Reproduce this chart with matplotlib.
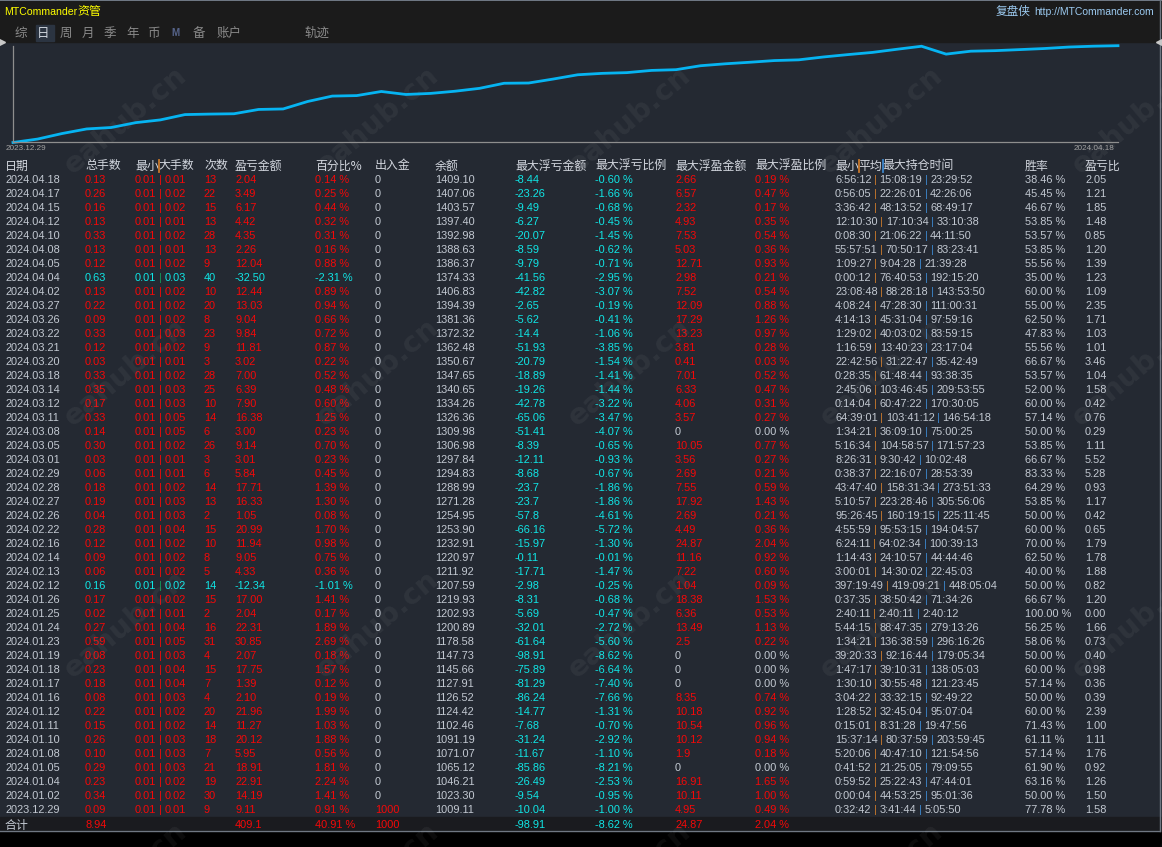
import matplotlib
matplotlib.use("Agg")
import matplotlib.pyplot as plt
from matplotlib.lines import Line2D
from matplotlib.patches import Rectangle

# ---------------- data ----------------
dates = ["2024.04.18", "2024.04.17", "2024.04.15", "2024.04.12", "2024.04.10", "2024.04.08",
         "2024.04.05", "2024.04.04", "2024.04.02", "2024.03.27", "2024.03.26", "2024.03.22",
         "2024.03.21", "2024.03.20", "2024.03.18", "2024.03.14", "2024.03.12", "2024.03.11",
         "2024.03.08", "2024.03.05", "2024.03.01", "2024.02.29", "2024.02.28", "2024.02.27",
         "2024.02.26", "2024.02.22", "2024.02.16", "2024.02.14", "2024.02.13", "2024.02.12",
         "2024.01.26", "2024.01.25", "2024.01.24", "2024.01.23", "2024.01.19", "2024.01.18",
         "2024.01.17", "2024.01.16", "2024.01.12", "2024.01.11", "2024.01.10", "2024.01.08",
         "2024.01.05", "2024.01.04", "2024.01.02", "2023.12.29"]
total_lots = [0.13, 0.26, 0.16, 0.13, 0.33, 0.13, 0.12, 0.63, 0.13, 0.22, 0.09, 0.33,
              0.12, 0.03, 0.33, 0.35, 0.17, 0.33, 0.14, 0.30, 0.03, 0.06, 0.18, 0.19,
              0.04, 0.28, 0.12, 0.09, 0.06, 0.16, 0.17, 0.02, 0.27, 0.59, 0.08, 0.23,
              0.18, 0.08, 0.22, 0.15, 0.26, 0.10, 0.29, 0.23, 0.34, 0.09]
min_lot = [0.01, 0.01, 0.01, 0.01, 0.01, 0.01, 0.01, 0.01, 0.01, 0.01, 0.01, 0.01,
           0.01, 0.01, 0.01, 0.01, 0.01, 0.01, 0.01, 0.01, 0.01, 0.01, 0.01, 0.01,
           0.01, 0.01, 0.01, 0.01, 0.01, 0.01, 0.01, 0.01, 0.01, 0.01, 0.01, 0.01,
           0.01, 0.01, 0.01, 0.01, 0.01, 0.01, 0.01, 0.01, 0.01, 0.01]
max_lot = [0.01, 0.02, 0.02, 0.01, 0.02, 0.01, 0.02, 0.03, 0.02, 0.02, 0.02, 0.03,
           0.02, 0.01, 0.02, 0.03, 0.03, 0.05, 0.05, 0.02, 0.01, 0.01, 0.02, 0.03,
           0.03, 0.04, 0.02, 0.02, 0.02, 0.02, 0.02, 0.01, 0.04, 0.05, 0.03, 0.04,
           0.04, 0.03, 0.02, 0.02, 0.03, 0.03, 0.03, 0.02, 0.02, 0.01]
trades = [13, 22, 15, 13, 28, 13, 9, 40, 10, 20, 8, 23,
          9, 3, 28, 25, 10, 14, 6, 26, 3, 6, 14, 13,
          2, 15, 10, 8, 5, 14, 15, 2, 16, 31, 4, 15,
          7, 4, 20, 14, 18, 7, 21, 19, 30, 9]
pnl = [2.04, 3.49, 6.17, 4.42, 4.35, 2.26, 12.04, -32.50, 12.44, 13.03, 9.04, 9.84,
       11.81, 3.02, 7.00, 6.39, 7.90, 16.38, 3.00, 9.14, 3.01, 5.84, 17.71, 16.33,
       1.05, 20.99, 11.94, 9.05, 4.33, -12.34, 17.00, 2.04, 22.31, 30.85, 2.07, 17.75,
       1.39, 2.10, 21.96, 11.27, 20.12, 5.95, 18.91, 22.91, 14.19, 9.11]
pnl_pct = [0.14, 0.25, 0.44, 0.32, 0.31, 0.16, 0.88, -2.31, 0.89, 0.94, 0.66, 0.72,
           0.87, 0.22, 0.52, 0.48, 0.60, 1.25, 0.23, 0.70, 0.23, 0.45, 1.39, 1.30,
           0.08, 1.70, 0.98, 0.75, 0.36, -1.01, 1.41, 0.17, 1.89, 2.69, 0.18, 1.57,
           0.12, 0.19, 1.99, 1.03, 1.88, 0.56, 1.81, 2.24, 1.41, 0.91]
deposits = [0, 0, 0, 0, 0, 0, 0, 0, 0, 0, 0, 0,
            0, 0, 0, 0, 0, 0, 0, 0, 0, 0, 0, 0,
            0, 0, 0, 0, 0, 0, 0, 0, 0, 0, 0, 0,
            0, 0, 0, 0, 0, 0, 0, 0, 0, 1000]
balance = [1409.10, 1407.06, 1403.57, 1397.40, 1392.98, 1388.63, 1386.37, 1374.33, 1406.83,
           1394.39, 1381.36, 1372.32, 1362.48, 1350.67, 1347.65, 1340.65, 1334.26, 1326.36,
           1309.98, 1306.98, 1297.84, 1294.83, 1288.99, 1271.28, 1254.95, 1253.90, 1232.91,
           1220.97, 1211.92, 1207.59, 1219.93, 1202.93, 1200.89, 1178.58, 1147.73, 1145.66,
           1127.91, 1126.52, 1124.42, 1102.46, 1091.19, 1071.07, 1065.12, 1046.21, 1023.30,
           1009.11]
max_float_loss = [-8.44, -23.26, -9.49, -6.27, -20.07, -8.59, -9.79, -41.56, -42.82, -2.65,
                  -5.62, -14.4, -51.93, -20.79, -18.89, -19.26, -42.78, -65.06, -51.41, -8.39,
                  -12.11, -8.68, -23.7, -23.7, -57.8, -66.16, -15.97, -0.11, -17.71, -2.98,
                  -8.31, -5.69, -32.01, -61.64, -98.91, -75.89, -81.29, -86.24, -14.77, -7.68,
                  -31.24, -11.67, -85.86, -26.49, -9.54, -10.04]
max_float_loss_pct = [-0.60, -1.66, -0.68, -0.45, -1.45, -0.62, -0.71, -2.95, -3.07, -0.19,
                      -0.41, -1.06, -3.85, -1.54, -1.41, -1.44, -3.22, -3.47, -4.07, -0.65,
                      -0.93, -0.67, -1.86, -1.86, -4.61, -5.72, -1.30, -0.01, -1.47, -0.25,
                      -0.68, -0.47, -2.72, -5.60, -8.62, -6.64, -7.40, -7.66, -1.31, -0.70,
                      -2.92, -1.10, -8.21, -2.53, -0.95, -1.00]
max_float_profit = [2.66, 6.57, 2.32, 4.93, 7.53, 5.03, 12.71, 2.98, 7.52, 12.09,
                    17.29, 13.23, 3.81, 0.41, 7.01, 6.33, 4.06, 3.57, 0, 10.05,
                    3.56, 2.69, 7.55, 17.92, 2.69, 4.49, 24.87, 11.16, 7.22, 1.04,
                    18.38, 6.36, 13.49, 2.5, 0, 0, 0, 8.35, 10.18, 10.54,
                    10.12, 1.9, 0, 16.91, 10.11, 4.95]
max_float_profit_pct = [0.19, 0.47, 0.17, 0.35, 0.54, 0.36, 0.93, 0.21, 0.54, 0.88,
                        1.26, 0.97, 0.28, 0.03, 0.52, 0.47, 0.31, 0.27, 0.00, 0.77,
                        0.27, 0.21, 0.59, 1.43, 0.21, 0.36, 2.04, 0.92, 0.60, 0.09,
                        1.53, 0.53, 1.13, 0.22, 0.00, 0.00, 0.00, 0.74, 0.92, 0.96,
                        0.94, 0.18, 0.00, 1.65, 1.00, 0.49]
hold_min = ["6:56:12", "0:56:05", "3:36:42", "12:10:30", "0:08:30", "55:57:51", "1:09:27",
            "0:00:12", "23:08:48", "4:08:24", "4:14:13", "1:29:02", "1:16:59", "22:42:56",
            "0:28:35", "2:45:06", "0:14:04", "64:39:01", "1:34:21", "5:16:34", "8:26:31",
            "0:38:37", "43:47:40", "5:10:57", "95:26:45", "4:55:59", "6:24:11", "1:14:43",
            "3:00:01", "397:19:49", "0:37:35", "2:40:11", "5:44:15", "1:34:21", "39:20:33",
            "1:47:17", "1:30:10", "3:04:22", "1:28:52", "0:15:01", "15:37:14", "5:20:06",
            "0:41:52", "0:59:52", "0:00:04", "0:32:42"]
hold_avg = ["15:08:19", "22:26:01", "48:13:52", "17:10:34", "21:06:22", "70:50:17", "9:04:28",
            "76:40:53", "88:28:18", "47:28:30", "45:31:04", "40:03:02", "13:40:23", "31:22:47",
            "61:48:44", "103:46:45", "60:47:22", "103:41:12", "36:09:10", "104:58:57", "9:30:42",
            "22:16:07", "158:31:34", "223:28:46", "160:19:15", "95:53:15", "64:02:34", "24:10:57",
            "14:30:02", "419:09:21", "38:50:42", "2:40:11", "88:47:35", "136:38:59", "92:16:44",
            "39:10:31", "30:55:48", "33:32:15", "32:45:04", "8:31:28", "80:37:59", "40:47:10",
            "21:25:05", "25:22:43", "44:53:25", "3:41:44"]
hold_max = ["23:29:52", "42:26:06", "68:49:17", "33:10:38", "44:11:50", "83:23:41", "21:39:28",
            "192:15:20", "143:53:50", "111:00:31", "97:59:16", "83:59:15", "23:17:04", "35:42:49",
            "93:38:35", "209:53:55", "170:30:05", "146:54:18", "75:00:25", "171:57:23", "10:02:48",
            "28:53:39", "273:51:33", "305:56:06", "225:11:45", "194:04:57", "100:39:13", "44:44:46",
            "22:45:03", "448:05:04", "71:34:26", "2:40:12", "279:13:26", "296:16:26", "179:05:34",
            "138:05:03", "121:23:45", "92:49:22", "95:07:04", "19:47:56", "203:59:45", "121:54:56",
            "79:09:55", "47:44:01", "95:01:36", "5:05:50"]
win_rate = [38.46, 45.45, 46.67, 53.85, 53.57, 53.85, 55.56, 35.00, 60.00, 55.00, 62.50, 47.83,
            55.56, 66.67, 53.57, 52.00, 60.00, 57.14, 50.00, 53.85, 66.67, 83.33, 64.29, 53.85,
            50.00, 60.00, 70.00, 62.50, 40.00, 50.00, 66.67, 100.00, 56.25, 58.06, 50.00, 60.00,
            57.14, 50.00, 60.00, 71.43, 61.11, 57.14, 61.90, 63.16, 50.00, 77.78]
pl_ratio = [2.05, 1.21, 1.85, 1.48, 0.85, 1.20, 1.39, 1.23, 1.09, 2.35, 1.71, 1.03,
            1.01, 3.46, 1.04, 1.58, 0.42, 0.76, 0.29, 1.11, 5.52, 5.28, 0.93, 1.17,
            0.42, 0.65, 1.79, 1.78, 1.88, 0.82, 1.20, 0.00, 1.66, 0.73, 0.40, 0.98,
            0.36, 0.39, 2.39, 1.00, 1.11, 1.76, 0.92, 1.26, 1.50, 1.58]

total_label = "合计"
total_lots_sum = 8.94
total_pnl = 409.1
total_pct = 40.91
total_deposit = 1000
total_float_loss = -98.91
total_float_loss_pct = -8.62
total_float_profit = 24.87
total_float_profit_pct = 2.04

headers = ["日期", "总手数", "最小|大手数", "次数", "盈亏金额", "百分比%", "出入金", "余额",
           "最大浮亏金额", "最大浮亏比例", "最大浮盈金额", "最大浮盈比例", "最小|平均|最大持仓时间",
           "胜率", "盈亏比"]
tabs = ["综", "日", "周", "月", "季", "年", "币", "M", "备", "账户", "轨迹"]
title_left = "MTCommander"
title_cn = "资管"
title_right_cn = "复盘侠"
title_right_url = "http://MTCommander.com"
watermark = "eahub.cn"

# ---------------- styling / layout ----------------
W, H = 1162, 847
BG = "#242932"
TOP = "#1b1b1b"
RED = "#f50808"
CYAN = "#10e6e6"
GRAY = "#c3c9d2"
HDR = "#d2d6de"
ORANGE = "#c8782c"
BLUE = "#3c86cc"
GREEN = "#149a5a"
LINEC = "#06b4f2"
NUM_FAM = ["Liberation Sans", "Noto Sans CJK SC", "DejaVu Sans"]
CJK_FAM = ["Noto Sans CJK SC", "DejaVu Sans"]
NFS = 7.9
HFS = 8.6

col_x = [5, 85, 135, 204, 235, 315, 375, 435, 515, 595, 675, 755, 835, 1025, 1085]
tab_x = [15, 37, 60, 82, 104, 126, 147, 171, 193, 217, 304]
row_y0, row_dy = 180.0, 14.0
hdr_y, tot_y = 166.0, 825.0

fig = plt.figure(figsize=(W / 100, H / 100), dpi=100)
fig.patch.set_facecolor(BG)
ax = fig.add_axes([0, 0, 1, 1])
ax.set_xlim(0, W)
ax.set_ylim(H, 0)
ax.axis("off")
renderer = fig.canvas.get_renderer()

# background regions
ax.add_patch(Rectangle((0, 0), W, 42, color=TOP, zorder=0))
ax.add_patch(Rectangle((0, 817.5), W, 13.5, color="#1a1b1f", zorder=0))
ax.add_patch(Rectangle((0, 831), W, H - 831, color="#000000", zorder=0))
ax.add_line(Line2D([0, W], [0.5, 0.5], color="#7f8a99", lw=1.2, zorder=1))
ax.add_line(Line2D([0, 1160], [831, 831], color="#6f7782", lw=1.0, zorder=1))
ax.add_line(Line2D([1159.5, 1159.5], [0, 831], color="#6f7782", lw=1.0, zorder=1))
ax.plot([1.5], [42], marker=">", ms=4, color="#c8c8c8", zorder=3)
ax.plot([1159], [42], marker="<", ms=4, color="#c8c8c8", zorder=3)


def txt(x, y, s, color, size=NFS, family=NUM_FAM, **kw):
    return ax.text(x, y, s, color=color, fontsize=size, family=family,
                   va="center", ha="left", zorder=4, **kw)


def pieces(x, y, parts, size=NFS, family=NUM_FAM, gap=2.6, bar_h=6.0):
    for i, (s, c) in enumerate(parts):
        if s is None:
            ax.add_line(Line2D([x + 0.5, x + 0.5], [y - bar_h, y + bar_h], color=c, lw=1.3, zorder=5))
            continue
        t = txt(x, y, s, c, size, family)
        bb = t.get_window_extent(renderer)
        x = bb.x1 + (gap if i < len(parts) - 1 and parts[i + 1][0] is not None else 0)
    return x


# title bar
xe = pieces(4, 12, [(title_left, "#ffff00")], size=7.6, family=NUM_FAM)
txt(xe, 12, title_cn, "#ffff00", size=8.6, family=CJK_FAM)
t = ax.text(1154, 12, title_right_url, color="#9ccaf0", fontsize=7.5, family=NUM_FAM,
            va="center", ha="right", zorder=4)
bb = t.get_window_extent(renderer)
ax.text(bb.x0 - 4, 12, title_right_cn, color="#9ccaf0", fontsize=8.4, family=CJK_FAM,
        va="center", ha="right", zorder=4)

# tabs
ax.add_patch(Rectangle((35.5, 25), 18.5, 16, color="#2b3441", zorder=1))
for name, x in zip(tabs, tab_x):
    if name == "M":
        txt(x, 33, name, "#56648a", size=7.0, family=NUM_FAM, weight="bold")
    else:
        txt(x, 33, name, "#d0d6de" if name == "日" else "#8a8a8a", size=9.0, family=CJK_FAM)

# equity chart
chrono = balance[::-1]
cx0, cx1, cy_top, cy_bot = 13, 1118, 45.7, 142.5
cax = fig.add_axes([cx0 / W, 1 - cy_bot / H, (cx1 - cx0) / W, (cy_bot - cy_top) / H])
cax.set_facecolor("none")
cax.plot(range(len(chrono)), chrono, color=LINEC, lw=2.0, clip_on=False, solid_joinstyle="miter")
cax.set_xlim(0, len(chrono) - 1)
cax.set_ylim(min(chrono), max(chrono))
cax.set_xticks([])
cax.set_yticks([])
for side in ("top", "right"):
    cax.spines[side].set_visible(False)
for side in ("left", "bottom"):
    cax.spines[side].set_color("#8e8e8e")
    cax.spines[side].set_linewidth(0.9)
ax.text(6, 149, dates[-1], color="#a2a2a2", fontsize=5.9, family=NUM_FAM, va="center", ha="left")
ax.text(1115, 149, dates[0], color="#a2a2a2", fontsize=5.9, family=NUM_FAM, va="center", ha="right")

# header
for h, x in zip(headers, col_x):
    if "|" in h:
        segs = h.split("|")
        parts = []
        bars = [ORANGE, BLUE]
        for k, sg in enumerate(segs):
            parts.append((sg, HDR))
            if k < len(segs) - 1:
                parts.append((None, bars[k]))
        pieces(x, hdr_y, parts, size=HFS, family=CJK_FAM, gap=0)
    else:
        txt(x, hdr_y, h, HDR, size=HFS, family=CJK_FAM)


def pct(v):
    return "%.2f %%" % v


# rows
for i in range(len(dates)):
    y = row_y0 + i * row_dy
    c = RED if pnl[i] >= 0 else CYAN
    sep = RED if pnl[i] >= 0 else GREEN
    txt(col_x[0], y, dates[i], GRAY)
    txt(col_x[1], y, "%.2f" % total_lots[i], c)
    pieces(col_x[2], y, [("%.2f" % min_lot[i], c), ("|", sep), ("%.2f" % max_lot[i], c)])
    txt(col_x[3], y, "%d" % trades[i], c)
    txt(col_x[4], y, "%.2f" % pnl[i], c)
    txt(col_x[5], y, pct(pnl_pct[i]), c)
    txt(col_x[6], y, "%d" % deposits[i], RED if deposits[i] > 0 else GRAY)
    txt(col_x[7], y, "%.2f" % balance[i], GRAY)
    txt(col_x[8], y, "%g" % max_float_loss[i], CYAN)
    txt(col_x[9], y, pct(max_float_loss_pct[i]), CYAN)
    pc = RED if max_float_profit[i] > 0 else GRAY
    txt(col_x[10], y, "%g" % max_float_profit[i], pc)
    txt(col_x[11], y, pct(max_float_profit_pct[i]), pc)
    pieces(col_x[12], y, [(hold_min[i], GRAY), ("|", ORANGE), (hold_avg[i], GRAY),
                          ("|", BLUE), (hold_max[i], GRAY)])
    txt(col_x[13], y, pct(win_rate[i]), GRAY)
    txt(col_x[14], y, "%.2f" % pl_ratio[i], GRAY)

# total row
txt(col_x[0], tot_y, total_label, GRAY, size=HFS, family=CJK_FAM)
txt(col_x[1], tot_y, "%.2f" % total_lots_sum, RED)
txt(col_x[4], tot_y, "%g" % total_pnl, RED)
txt(col_x[5], tot_y, pct(total_pct), RED)
txt(col_x[6], tot_y, "%d" % total_deposit, RED)
txt(col_x[8], tot_y, "%g" % total_float_loss, CYAN)
txt(col_x[9], tot_y, pct(total_float_loss_pct), CYAN)
txt(col_x[10], tot_y, "%g" % total_float_profit, RED)
txt(col_x[11], tot_y, pct(total_float_profit_pct), RED)

# watermark grid
for gy in (120, 372, 624, 876):
    for gx in (125, 377, 629, 881, 1133):
        ax.text(gx, gy, watermark, rotation=40, ha="center", va="center", rotation_mode="anchor",
                fontsize=21, weight="bold", family="DejaVu Sans", color="white", alpha=0.05,
                zorder=6)

fig.savefig("out.png", dpi=100, facecolor=fig.get_facecolor())
